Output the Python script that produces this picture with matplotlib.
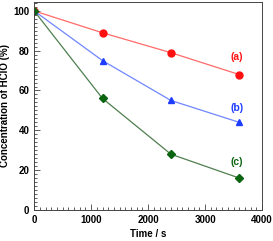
import matplotlib
matplotlib.use("Agg")
import matplotlib.pyplot as plt
from matplotlib.ticker import MultipleLocator

time_s = [0, 1200, 2400, 3600]
conc_a = [100, 89, 79, 68]
conc_b = [100, 75, 55, 44]
conc_c = [100, 56, 28, 16]

plt.rcParams["font.family"] = ["Liberation Sans", "DejaVu Sans"]
plt.rcParams["font.weight"] = "bold"

fig = plt.figure(figsize=(2.73, 2.41), dpi=100)
ax = fig.add_axes([0.125, 0.129, 0.835, 0.863])

ax.plot(time_s, conc_a, color="#ff6a6a", lw=0.9, marker="o", ms=5,
        mfc="#ff1010", mec="#ff1010")
ax.plot(time_s, conc_b, color="#6f86ff", lw=0.9, marker="^", ms=5,
        mfc="#1e3cff", mec="#1e3cff")
ax.plot(time_s, conc_c, color="#4f7f4f", lw=0.9, marker="D", ms=4.5,
        mfc="#0a6410", mec="#0a6410")

ax.text(3560, 77, "(a)", color="#ff1010", fontsize=7.5, fontweight="bold", ha="center", va="center")
ax.text(3560, 51, "(b)", color="#1e3cff", fontsize=7.5, fontweight="bold", ha="center", va="center")
ax.text(3560, 24, "(c)", color="#0a6410", fontsize=7.5, fontweight="bold", ha="center", va="center")

ax.set_xlim(0, 4000)
ax.set_ylim(0, 104.5)
ax.xaxis.set_major_locator(MultipleLocator(1000))
ax.xaxis.set_minor_locator(MultipleLocator(100))
ax.yaxis.set_major_locator(MultipleLocator(20))
ax.yaxis.set_minor_locator(MultipleLocator(2))
ax.tick_params(which="both", direction="in", labelsize=7, width=0.6, color="#444444")
ax.tick_params(which="major", length=4)
ax.tick_params(which="minor", length=2)
for lab in ax.get_xticklabels() + ax.get_yticklabels():
    lab.set_fontweight("bold")
for sp in ax.spines.values():
    sp.set_linewidth(0.7)
    sp.set_color("#444444")

ax.set_xlabel("Time / s", fontsize=7, fontweight="bold", labelpad=3)
ax.set_ylabel("Concentration of HClO (%)", fontsize=7, fontweight="bold", labelpad=2)

fig.savefig("out.png", dpi=100)
